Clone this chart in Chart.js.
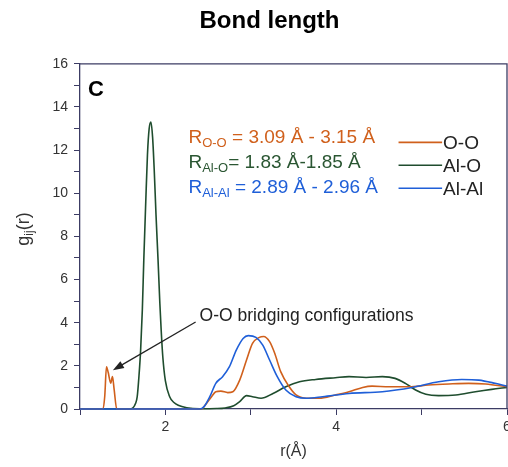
<!DOCTYPE html>
<html>
<head>
<meta charset="utf-8">
<script src="https://cdn.jsdelivr.net/npm/chart.js@4/dist/chart.umd.min.js"></script>
<style>
  html, body { margin: 0; padding: 0; background: #fff; }
  #wrap { width: 508px; height: 467px; }
</style>
</head>
<body>
<div id="wrap"><canvas id="gr"></canvas></div>
<script>
// Radial distribution functions g_ij(r) for the three atom pairs
const ooR   = [1.00, 1.27, 1.29, 1.31, 1.33, 1.36, 1.38, 1.40, 1.43, 2.42, 2.47, 2.54, 2.59, 2.65, 2.73, 2.79, 2.87, 2.95, 3.02, 3.10, 3.15, 3.22, 3.28, 3.35, 3.45, 3.53, 3.65, 3.80, 3.99, 4.15, 4.31, 4.42, 4.62, 4.85, 5.08, 5.32, 5.55, 5.75, 6.00];
const ooG   = [0.00, 0.00, 0.60, 1.96, 1.70, 1.20, 1.50, 0.90, 0.00, 0.00, 0.20, 0.57, 0.80, 0.83, 0.76, 0.80, 1.34, 2.27, 3.04, 3.32, 3.36, 3.12, 2.58, 1.73, 1.03, 0.65, 0.50, 0.50, 0.65, 0.80, 1.00, 1.06, 1.03, 1.03, 1.11, 1.16, 1.19, 1.16, 1.03];

const aloR  = [1.00, 1.58, 1.62, 1.65, 1.67, 1.69, 1.71, 1.73, 1.747, 1.77, 1.79, 1.81, 1.83, 1.85, 1.87, 1.89, 1.914, 1.935, 1.95, 1.97, 2.00, 2.05, 2.10, 2.15, 2.25, 2.40, 2.60, 2.70, 2.80, 2.87, 2.95, 3.02, 3.12, 3.26, 3.41, 3.57, 3.76, 3.99, 4.15, 4.35, 4.54, 4.69, 4.81, 4.93, 5.05, 5.20, 5.40, 5.63, 5.82, 6.00];
const aloG  = [0.00, 0.00, 0.05, 0.25, 0.57, 1.50, 2.73, 4.60, 6.90, 9.60, 11.8, 13.0, 13.3, 12.6, 11.0, 9.00, 6.90, 4.90, 3.70, 2.40, 1.30, 0.57, 0.30, 0.17, 0.06, 0.01, 0.02, 0.05, 0.15, 0.34, 0.62, 0.57, 0.50, 0.72, 1.03, 1.26, 1.37, 1.45, 1.50, 1.46, 1.50, 1.42, 1.19, 0.88, 0.68, 0.62, 0.65, 0.80, 0.91, 1.00];

const alalR = [1.00, 2.40, 2.45, 2.52, 2.59, 2.67, 2.75, 2.83, 2.91, 2.97, 3.06, 3.14, 3.22, 3.31, 3.41, 3.53, 3.65, 3.84, 4.15, 4.54, 4.89, 5.20, 5.47, 5.67, 5.86, 6.00];
const alalG = [0.00, 0.00, 0.10, 0.57, 1.19, 1.50, 1.96, 2.73, 3.27, 3.40, 3.32, 2.96, 2.27, 1.50, 0.88, 0.57, 0.50, 0.57, 0.72, 0.80, 1.00, 1.26, 1.37, 1.34, 1.19, 1.05];

const pairNames  = ['O-O', 'Al-O', 'Al-Al'];
const pairColors = ['#d0601c', '#1f4d2e', '#1f5fd8'];

// first-peak ranges written next to the legend
const rangeSubs = ['O-O', 'Al-O', 'Al-Al'];
const rangeText = [' = 3.09 Å - 3.15 Å', '= 1.83 Å-1.85 Å', ' = 2.89 Å - 2.96 Å'];
const rangeColors = ['#d0601c', '#2a5632', '#1f5fd8'];

const xTicks = [2, 4, 6];
const yTicks = [0, 2, 4, 6, 8, 10, 12, 14, 16];

const axisColor = '#3c3c64';
const FONT = '"Liberation Sans", Arial, sans-serif';

const toPoints = (xs, ys) => xs.map((x, i) => ({ x, y: ys[i] }));

// text, arrow, frame and legend drawn over the plot
const overlay = {
    id: 'overlay',
    afterDraw(chart) {
        const { ctx, chartArea: a, scales: { x, y } } = chart;
        ctx.save();

        // closed frame (top and right edges)
        ctx.strokeStyle = axisColor;
        ctx.lineWidth = 1.3;
        ctx.beginPath();
        ctx.moveTo(a.left, a.top);
        ctx.lineTo(a.right, a.top);
        ctx.lineTo(a.right, a.bottom);
        ctx.stroke();

        // panel letter
        ctx.fillStyle = '#000';
        ctx.font = 'bold 22px ' + FONT;
        ctx.textBaseline = 'alphabetic';
        ctx.textAlign = 'left';
        ctx.fillText('C', a.left + 8, a.top + 32);

        // y axis title with subscript
        ctx.save();
        ctx.translate(29, 229);
        ctx.rotate(-Math.PI / 2);
        ctx.fillStyle = '#333';
        ctx.font = '18px ' + FONT;
        const gW = ctx.measureText('g').width;
        const rW = ctx.measureText('(r)').width;
        ctx.font = '12px ' + FONT;
        const ijW = ctx.measureText('ij').width;
        let tx = -(gW + ijW + rW) / 2;
        ctx.font = '18px ' + FONT;
        ctx.fillText('g', tx, 0);
        tx += gW;
        ctx.font = '12px ' + FONT;
        ctx.fillText('ij', tx, 4);
        tx += ijW;
        ctx.font = '18px ' + FONT;
        ctx.fillText('(r)', tx, 0);
        ctx.restore();

        // bond length ranges
        for (let i = 0; i < rangeSubs.length; i++) {
            let px = x.getPixelForValue(2.27);
            const py = y.getPixelForValue(12.31 - i * 1.155);
            ctx.fillStyle = rangeColors[i];
            ctx.font = '19px ' + FONT;
            ctx.fillText('R', px, py);
            px += ctx.measureText('R').width;
            ctx.font = '13px ' + FONT;
            ctx.fillText(rangeSubs[i], px, py + 4);
            px += ctx.measureText(rangeSubs[i]).width;
            ctx.font = '19px ' + FONT;
            ctx.fillText(rangeText[i], px, py);
        }

        // legend
        chart.data.datasets.forEach((ds, i) => {
            const ly = y.getPixelForValue(12.36 - i * 1.065);
            const x0 = x.getPixelForValue(4.73);
            const x1 = x.getPixelForValue(5.24);
            ctx.strokeStyle = ds.borderColor;
            ctx.lineWidth = 1.6;
            ctx.beginPath();
            ctx.moveTo(x0, ly);
            ctx.lineTo(x1, ly);
            ctx.stroke();
            ctx.fillStyle = '#222';
            ctx.font = '19px ' + FONT;
            ctx.textBaseline = 'middle';
            ctx.fillText(ds.label, x1 + 1, ly + 1);
            ctx.textBaseline = 'alphabetic';
        });

        // bridging annotation with arrow
        ctx.fillStyle = '#222';
        ctx.font = '17.5px ' + FONT;
        ctx.textBaseline = 'middle';
        ctx.fillText('O-O bridging configurations', x.getPixelForValue(2.40), y.getPixelForValue(4.3));
        const sx = x.getPixelForValue(2.354), sy = y.getPixelForValue(4.03);
        const ex = x.getPixelForValue(1.385), ey = y.getPixelForValue(1.8);
        const ang = Math.atan2(ey - sy, ex - sx);
        ctx.strokeStyle = '#222';
        ctx.lineWidth = 1.3;
        ctx.beginPath();
        ctx.moveTo(sx, sy);
        ctx.lineTo(ex - 8 * Math.cos(ang), ey - 8 * Math.sin(ang));
        ctx.stroke();
        ctx.beginPath();
        ctx.moveTo(ex, ey);
        ctx.lineTo(ex - 11 * Math.cos(ang) + 4 * Math.sin(ang), ey - 11 * Math.sin(ang) - 4 * Math.cos(ang));
        ctx.lineTo(ex - 11 * Math.cos(ang) - 4 * Math.sin(ang), ey - 11 * Math.sin(ang) + 4 * Math.cos(ang));
        ctx.closePath();
        ctx.fill();

        ctx.restore();
    }
};

Chart.defaults.font.family = FONT;

new Chart(document.getElementById('gr'), {
    type: 'line',
    data: {
        datasets: [
            { label: pairNames[0], data: toPoints(ooR, ooG),     borderColor: pairColors[0], order: 2, clip: false },
            { label: pairNames[1], data: toPoints(aloR, aloG),   borderColor: pairColors[1], order: 3, clip: false },
            { label: pairNames[2], data: toPoints(alalR, alalG), borderColor: pairColors[2], order: 1, clip: false }
        ]
    },
    options: {
        responsive: true,
        maintainAspectRatio: false,
        animation: false,
        layout: { padding: { left: 32, right: 1, top: 0, bottom: 0 } },
        elements: {
            line: { borderWidth: 1.6, cubicInterpolationMode: 'monotone', fill: false },
            point: { radius: 0, hoverRadius: 0 }
        },
        plugins: {
            legend: { display: false },
            tooltip: { enabled: false },
            title: {
                display: true,
                text: 'Bond length',
                color: '#000',
                font: { size: 24, weight: 'bold' },
                padding: { top: 7, bottom: 28 }
            }
        },
        scales: {
            x: {
                type: 'linear',
                min: 1,
                max: 6,
                afterFit(scale) { scale.height = 58; scale.paddingLeft = 0; scale.paddingRight = 0; },
                ticks: {
                    stepSize: 1,
                    autoSkip: false,
                    maxRotation: 0,
                    color: '#333',
                    font: { size: 14 },
                    padding: 4,
                    callback: v => xTicks.includes(v) ? v : ''
                },
                grid: { drawOnChartArea: false, tickLength: 6, color: axisColor },
                border: { color: axisColor, width: 1.3 },
                title: { display: true, text: 'r(Å)', color: '#333', font: { size: 16 }, padding: { top: 0, bottom: 6 } }
            },
            y: {
                min: 0,
                max: 16,
                afterFit(scale) { scale.width = 48; scale.paddingTop = 0; scale.paddingBottom = 0; },
                ticks: {
                    stepSize: 1,
                    autoSkip: false,
                    color: '#333',
                    font: { size: 14 },
                    padding: 6,
                    callback: v => yTicks.includes(v) ? v : ''
                },
                grid: { drawOnChartArea: false, tickLength: 6, color: axisColor },
                border: { color: axisColor, width: 1.3 }
            }
        }
    },
    plugins: [overlay]
});
</script>
</body>
</html>
